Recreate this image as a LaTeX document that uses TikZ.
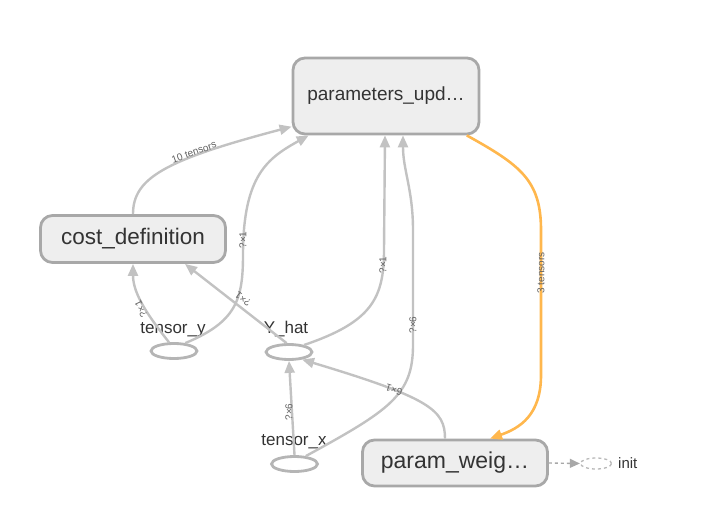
\documentclass[tikz,border=0pt]{standalone}
\usepackage{fontspec}
\setmainfont{Liberation Sans}
\usetikzlibrary{positioning,arrows.meta,shapes.geometric,calc}
\definecolor{opfill}{HTML}{EEEEEE}
\definecolor{opline}{HTML}{A8A8A8}
\definecolor{edgegray}{HTML}{C2C2C2}
\definecolor{refline}{HTML}{FFB74D}
\definecolor{txt}{HTML}{333333}

\begin{document}
\begin{tikzpicture} [x=1pt, y=-1pt,
  opnode/.style={draw=opline, fill=opfill, line width=2.8pt, rounded corners=12pt, text=txt, inner sep=0pt},
  tensornode/.style={ellipse, draw=opline!85, line width=2.8pt, minimum width=46pt, minimum height=15pt, inner sep=0pt},
  tname/.style={anchor=base, text=txt, inner sep=0pt, font=\fontsize{17}{17}\selectfont},
  elabel/.style={text=black!62, inner sep=0pt, font=\fontsize{10}{10}\selectfont},
  flow/.style={draw=edgegray, line width=2.4pt, -{Triangle[length=12pt,width=10pt]}},
  refflow/.style={draw=refline, line width=2.6pt, -{Triangle[length=12pt,width=10pt]}},
  initflow/.style={draw=opline, line width=1.4pt, dashed, -{Triangle[length=10pt,width=9pt]}}]

\useasboundingbox (0,0) rectangle (713,514);

% ops
\node [opnode, minimum width=186pt, minimum height=76pt, font=\fontsize{19}{19}\selectfont] (params) at (386,96) {parameters\_upd…};
\node [opnode, minimum width=185pt, minimum height=47pt, font=\fontsize{22.5}{22.5}\selectfont] (cost) at (133,239) {cost\_definition};
\node [opnode, minimum width=185pt, minimum height=46pt, font=\fontsize{23}{23}\selectfont] (weights) at (455,463) {param\_weig…};

% tensors
\node [tensornode] (ty) at (174,351) {};
\node [tensornode] (yhat) at (289,352) {};
\node [tensornode] (tx) at (294.5,464) {};
\node [ellipse, draw=opline!80, dashed, line width=1.3pt, minimum width=31pt, minimum height=11pt, inner sep=0pt] (init) at (596,463.5) {};

\node [tname] (tylabel) at (173,333) {tensor\_y};
\node [tname] (yhatlabel) at (286,333) {Y\_hat};
\node [tname] (txlabel) at (294,445) {tensor\_x};
\node [tname, anchor=base west, font=\fontsize{15}{15}\selectfont] (initlabel) at (618,468) {init};

% edges
\draw [flow] (cost.north) .. controls (133,178) and (165,160) .. (params.198);
\draw [flow] (ty.35) .. controls (236,322) and (243,300) .. (243,255) .. controls (243,175) and (268,158) .. (params.207);
\draw [flow] (ty.120) .. controls (150,318) and (133,295) .. (cost.south);
\draw [flow] (yhat.105) -- ([xshift=52pt]cost.south);
\draw [flow] (yhat.25) .. controls (372,322) and (384,298) .. (384,250) -- ([xshift=-1pt]params.south);
\draw [flow] (tx.35) .. controls (390,410) and (413,395) .. (413,345) -- (413,230) .. controls (413,190) and (403,170) .. ([xshift=17pt]params.south);
\draw [flow] (tx.north) -- (yhat.south);
\draw [flow] ([xshift=-10pt]weights.north) .. controls (445,410) and (430,398) .. (yhat.-30);
\draw [refflow] (params.-26) .. controls (520,165) and (541,180) .. (541,230) -- (541,375) .. controls (541,415) and (520,428) .. ([xshift=35pt]weights.north);
\draw [initflow] (weights.east) -- (init.west);

% edge labels
\node [elabel, rotate=20] (l1) at (194,152) {10 tensors};
\node [elabel, rotate=90] (l2) at (243,240) {?×1};
\node [elabel, rotate=115] (l3) at (141,309) {?×1};
\node [elabel, rotate=142] (l4) at (243,299) {?×1};
\node [elabel, rotate=90] (l5) at (383,265) {?×1};
\node [elabel, rotate=90] (l6) at (413,325) {?×6};
\node [elabel, rotate=90] (l7) at (289,412) {?×6};
\node [elabel, rotate=162] (l8) at (394,390) {6×1};
\node [elabel, rotate=90] (l9) at (541,273) {3 tensors};

\end{tikzpicture}
\end{document}
